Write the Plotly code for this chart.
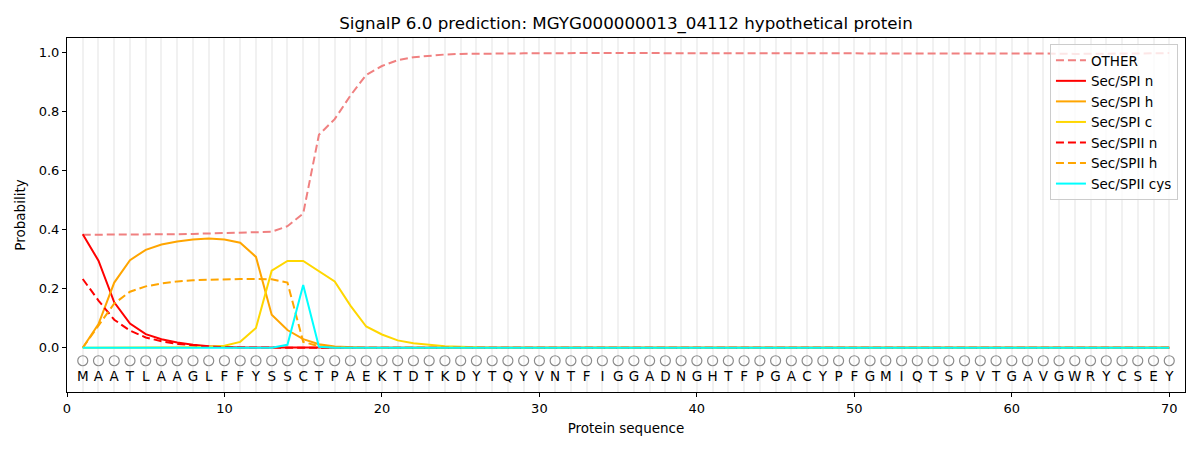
import plotly.graph_objects as go

# SignalP 6.0 per-residue probabilities
sequence = list("MAATLAAGLFFYSSCTPAEKTDTKDYTQYVNTFIGGADNGHTFPGACYPFGMIQTSPVTGAVGWRYCSEY")
positions = list(range(1, len(sequence) + 1))

other = [0.383, 0.383, 0.383, 0.383, 0.384, 0.384, 0.385, 0.386, 0.387, 0.388,
         0.389, 0.390, 0.393, 0.412, 0.455, 0.722, 0.775, 0.855, 0.925, 0.955,
         0.975, 0.985, 0.990, 0.994, 0.996, 0.997, 0.998, 0.998, 0.998, 0.998] + \
        [0.999] * 28 + [0.998, 0.998, 0.997, 0.997, 0.997, 0.996, 0.996, 0.997, 0.997, 0.997, 0.998, 0.999]
sec_spi_n = [0.385, 0.295, 0.154, 0.082, 0.046, 0.029, 0.018, 0.010, 0.005, 0.002,
             0.001, 0.001, 0.001, 0.003, 0.003, 0.001] + [0.0] * 54
sec_spi_h = [0.0, 0.08, 0.221, 0.297, 0.332, 0.350, 0.360, 0.367, 0.370, 0.367,
             0.356, 0.308, 0.112, 0.060, 0.029, 0.012, 0.004, 0.001] + [0.0] * 52
sec_spi_c = [0.0, 0.0, 0.0, 0.0, 0.0, 0.0, 0.001, 0.002, 0.003, 0.007,
             0.020, 0.067, 0.261, 0.294, 0.294, 0.258, 0.225, 0.143, 0.072, 0.045,
             0.025, 0.015, 0.009, 0.005, 0.003, 0.001] + [0.0] * 44
sec_spii_n = [0.233, 0.160, 0.095, 0.058, 0.035, 0.022, 0.013, 0.008, 0.004, 0.002,
              0.001] + [0.0] * 59
sec_spii_h = [0.0, 0.075, 0.150, 0.190, 0.208, 0.218, 0.225, 0.229, 0.231, 0.232,
              0.233, 0.233, 0.232, 0.221, 0.02, 0.005, 0.001] + [0.0] * 53
sec_spii_cys = [0.0] * 13 + [0.010, 0.213, 0.003] + [0.0] * 54

dashed = "8px,4px"
series = [
    ("OTHER", other, "#F08080", dashed),
    ("Sec/SPI n", sec_spi_n, "red", "solid"),
    ("Sec/SPI h", sec_spi_h, "orange", "solid"),
    ("Sec/SPI c", sec_spi_c, "gold", "solid"),
    ("Sec/SPII n", sec_spii_n, "red", dashed),
    ("Sec/SPII h", sec_spii_h, "orange", dashed),
    ("Sec/SPII cys", sec_spii_cys, "cyan", "solid"),
]

fig = go.Figure()
for name, vals, color, dash in series:
    fig.add_trace(go.Scatter(x=positions, y=vals, name=name, mode="lines",
                             line=dict(color=color, width=2, dash=dash)))

# residue markers and letters under the curves
fig.add_trace(go.Scatter(x=positions, y=[-0.044] * len(positions), mode="markers",
                         marker=dict(symbol="circle-open", size=10, color="#8c8c8c", line=dict(width=1.2)),
                         showlegend=False, hoverinfo="skip"))
fig.add_trace(go.Scatter(x=positions, y=[-0.10] * len(positions), mode="text",
                         text=sequence, textfont=dict(size=13.5, color="black"),
                         showlegend=False, hoverinfo="skip"))

axis_common = dict(showline=True, linecolor="black", linewidth=1, mirror=True,
                   ticks="outside", ticklen=4, tickcolor="black", zeroline=False,
                   automargin=False, tickfont=dict(size=13, color="black"))

# page body adds an 8px offset, so margins are shifted to compensate
fig.update_layout(
    width=1200, height=450,
    margin=dict(l=59, r=23, t=30, b=66),
    plot_bgcolor="white", paper_bgcolor="white",
    font=dict(family="DejaVu Sans", color="black"),
    title=dict(text="SignalP 6.0 prediction: MGYG000000013_04112 hypothetical protein",
               x=0.5, xanchor="center", xref="paper", yref="container",
               y=0.979, yanchor="top", font=dict(size=16.7)),
    xaxis=dict(range=[0, 71], tickvals=list(range(0, 71, 10)),
               title=dict(text="Protein sequence", font=dict(size=13.5), standoff=8),
               showgrid=True, gridcolor="#f1f1f1", gridwidth=1.5,
               minor=dict(dtick=1, tick0=0, showgrid=True, gridcolor="#f1f1f1", gridwidth=1.5),
               **axis_common),
    yaxis=dict(range=[-0.15, 1.05], tickvals=[0, 0.2, 0.4, 0.6, 0.8, 1.0], tickformat=".1f",
               title=dict(text="Probability", font=dict(size=13.5), standoff=9),
               showgrid=False, **axis_common),
    legend=dict(x=0.9937, y=0.983, xanchor="right", yanchor="top",
                bgcolor="rgba(255,255,255,0.8)", bordercolor="#cccccc", borderwidth=1,
                font=dict(size=13.5), itemwidth=30),
)

fig.write_html("out.html")
